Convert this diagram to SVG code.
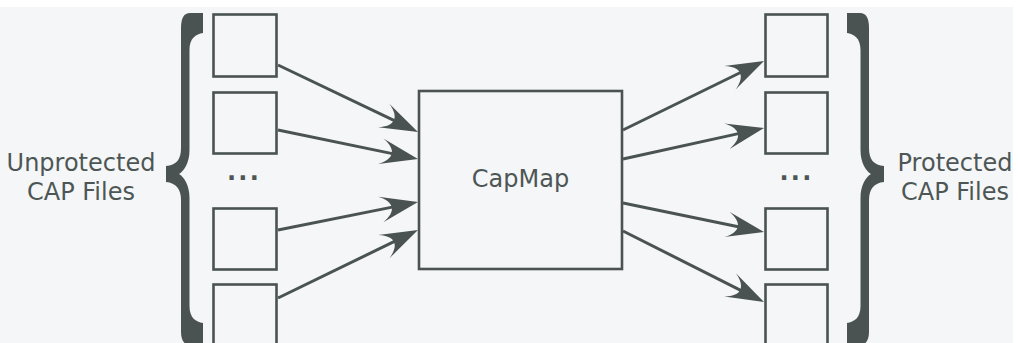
<svg xmlns="http://www.w3.org/2000/svg" width="1018" height="343" viewBox="0 0 1018 343">
  <style>
    .box { fill: none; stroke: #4a5352; stroke-width: 2.6; }
    .conn { fill: none; stroke: #4a5352; stroke-width: 3; }
    .lbl { font-family: "DejaVu Sans", sans-serif; font-size: 24px; fill: #4d5655; }
    .dots { font-family: "DejaVu Sans", sans-serif; font-size: 24px; font-weight: bold; fill: #4d5655; letter-spacing: 2.2px; }
    .brace { fill: #4a5352; }
  </style>
  <defs>
    <marker id="arrow" markerUnits="userSpaceOnUse" markerWidth="60" markerHeight="40" refX="0" refY="0" orient="auto" overflow="visible" viewBox="-20 -20 60 40">
      <path d="M25,0 L-13,-13 C2,-5 2,5 -13,13 Z" fill="#4a5352"/>
    </marker>
    <path id="bracePath" d="M203,13 L203,33 C196,34 189.5,38 189.5,50 L189.5,150 C189.5,163 184,171 179,174 C184,177 189.5,185 189.5,198 L189.5,306 C189.5,318 196,322 203,323 L203,345 L190,345 C184,345 181,340 181,332 L181,200 C181,189 176,183 166,182 L166,166 C176,165 181,160 181,148 L181,28 C181,18 184,13 190,13 Z"/>
  </defs>
  <rect x="0" y="0" width="1018" height="343" fill="#ffffff"/>
  <rect x="0" y="7" width="1013" height="336" fill="#f5f6f7"/>

  <g id="left-group">
    <use href="#bracePath" class="brace"/>
    <text class="lbl" x="81" y="171" text-anchor="middle">Unprotected</text>
    <text class="lbl" x="81" y="200" text-anchor="middle">CAP Files</text>
    <text class="dots" x="227" y="180">...</text>
  </g>
  <g id="in1"><rect class="box" x="213.5" y="14.5" width="63" height="62"/></g>
  <g id="in2"><rect class="box" x="213.5" y="92.5" width="63" height="61"/></g>
  <g id="in3"><rect class="box" x="213.5" y="208.5" width="63" height="61"/></g>
  <g id="in4"><rect class="box" x="213.5" y="284.5" width="63" height="62"/></g>

  <g id="capmap">
    <rect class="box" x="419" y="91" width="203" height="178"/>
    <text class="lbl" x="520.5" y="187" text-anchor="middle">CapMap</text>
  </g>

  <g id="right-group">
    <use href="#bracePath" class="brace" transform="matrix(-1,0,0,1,1050,0)"/>
    <text class="lbl" x="955" y="171" text-anchor="middle">Protected</text>
    <text class="lbl" x="955" y="200" text-anchor="middle">CAP Files</text>
    <text class="dots" x="779.5" y="180">...</text>
  </g>
  <g id="out1"><rect class="box" x="765.5" y="14.5" width="62" height="62"/></g>
  <g id="out2"><rect class="box" x="765.5" y="92.5" width="62" height="61"/></g>
  <g id="out3"><rect class="box" x="765.5" y="208.5" width="62" height="61"/></g>
  <g id="out4"><rect class="box" x="765.5" y="284.5" width="62" height="62"/></g>

  <g id="connectors">
    <line class="conn" x1="278" y1="65" x2="395.45" y2="121.2" marker-end="url(#arrow)"/>
    <line class="conn" x1="278" y1="130" x2="393.5" y2="153.9" marker-end="url(#arrow)"/>
    <line class="conn" x1="278" y1="230" x2="393.5" y2="206.9" marker-end="url(#arrow)"/>
    <line class="conn" x1="278" y1="298" x2="395.5" y2="240.9" marker-end="url(#arrow)"/>
    <line class="conn" x1="623" y1="130" x2="741.55" y2="71.99" marker-end="url(#arrow)"/>
    <line class="conn" x1="623" y1="159" x2="739.6" y2="133.4" marker-end="url(#arrow)"/>
    <line class="conn" x1="623" y1="203" x2="739.5" y2="227.0" marker-end="url(#arrow)"/>
    <line class="conn" x1="623" y1="231" x2="741.7" y2="290.8" marker-end="url(#arrow)"/>
  </g>
</svg>
